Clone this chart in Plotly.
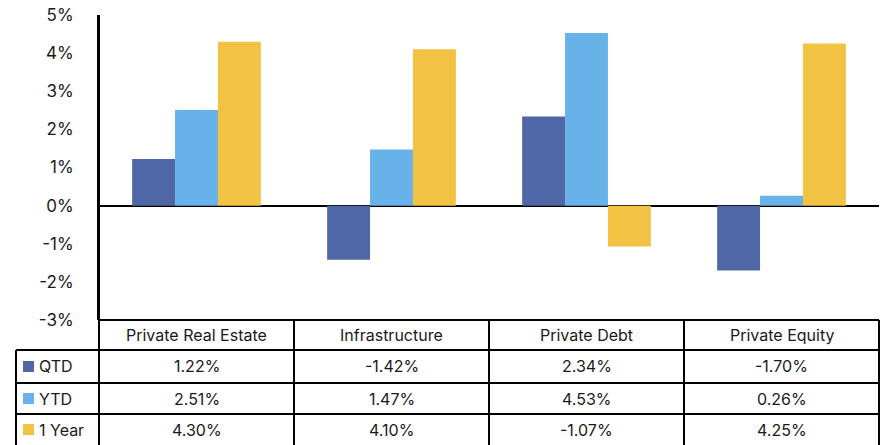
import plotly.graph_objects as go

categories = ["Private Real Estate", "Infrastructure", "Private Debt", "Private Equity"]
series_names = ["QTD", "YTD", "1 Year"]
qtd = [1.22, -1.42, 2.34, -1.70]
ytd = [2.51, 1.47, 4.53, 0.26]
one_year = [4.30, 4.10, -1.07, 4.25]
tick_vals = [-3, -2, -1, 0, 1, 2, 3, 4, 5]
tick_text = ["-3%", "-2%", "-1%", "0%", "1%", "2%", "3%", "4%", "5%"]

colors = ["#4F67A6", "#67B2E9", "#F2C242"]
series = [qtd, ytd, one_year]

W, H = 883, 445
L, R, T, B = 99, 4, 15, 125
pw, ph = W - L - R, H - T - B
FONT = "Inter, Liberation Sans, sans-serif"
TXT = "#1a1a1a"
TS = 16


def px_x(p):
    return (p - L) / pw


def px_y(p):
    return (H - B - p) / ph


fig = go.Figure()
for name, vals, c in zip(series_names, series, colors):
    fig.add_trace(go.Bar(x=categories, y=vals, name=name, marker_color=c,
                         marker_line_width=0))

shapes = []
lw = 2
line = dict(color="black", width=lw)
header_top, header_bot = 320, 350
row_tops = [350, 383, 414]
row_bot = 450
label_left = 16
n = len(categories)
col_x = [k / n for k in range(n + 1)]

shapes.append(dict(type="line", xref="paper", yref="paper", x0=0, x1=0,
                   y0=1, y1=px_y(row_bot), line=line))
shapes.append(dict(type="line", xref="paper", yref="paper", x0=0, x1=1,
                   y0=px_y(header_top), y1=px_y(header_top), line=line))
for yy in row_tops:
    shapes.append(dict(type="line", xref="paper", yref="paper",
                       x0=px_x(label_left), x1=1, y0=px_y(yy), y1=px_y(yy), line=line))
for cx in col_x[1:]:
    shapes.append(dict(type="line", xref="paper", yref="paper", x0=cx, x1=cx,
                       y0=px_y(header_top), y1=px_y(row_bot), line=line))
shapes.append(dict(type="line", xref="paper", yref="paper",
                   x0=px_x(label_left), x1=px_x(label_left),
                   y0=px_y(header_bot), y1=px_y(row_bot), line=line))

annotations = []
for i, cat in enumerate(categories):
    annotations.append(dict(text=cat, xref="paper", yref="paper",
                            x=(col_x[i] + col_x[i + 1]) / 2,
                            y=px_y((header_top + header_bot) / 2),
                            showarrow=False, xanchor="center", yanchor="middle",
                            font=dict(family=FONT, size=TS, color=TXT)))
row_centers = [(row_tops[0] + row_tops[1]) / 2, (row_tops[1] + row_tops[2]) / 2,
               (row_tops[2] + 445) / 2]
for r, (name, vals, c) in enumerate(zip(series_names, series, colors)):
    yc = row_centers[r]
    shapes.append(dict(type="rect", xref="paper", yref="paper",
                       x0=px_x(23), x1=px_x(34), y0=px_y(yc - 5.5), y1=px_y(yc + 5.5),
                       fillcolor=c, line=dict(width=0)))
    annotations.append(dict(text=name, xref="paper", yref="paper", x=px_x(37),
                            y=px_y(yc), showarrow=False, xanchor="left",
                            yanchor="middle",
                            font=dict(family=FONT, size=TS, color=TXT)))
    for i, v in enumerate(vals):
        annotations.append(dict(text=f"{v:.2f}%", xref="paper", yref="paper",
                                x=(col_x[i] + col_x[i + 1]) / 2, y=px_y(yc),
                                showarrow=False, xanchor="center", yanchor="middle",
                                font=dict(family=FONT, size=TS, color=TXT)))

fig.update_layout(
    template="none",
    width=W, height=H,
    margin=dict(l=L, r=R, t=T, b=B, pad=0),
    paper_bgcolor="white", plot_bgcolor="white",
    barmode="group", bargap=0.34, bargroupgap=0,
    showlegend=False,
    shapes=shapes, annotations=annotations,
    font=dict(family=FONT, color=TXT),
)
fig.update_xaxes(showticklabels=False, showline=False, showgrid=False,
                 zeroline=False, ticks="", automargin=False)
fig.update_yaxes(range=[-3, 5], tickvals=tick_vals, ticktext=tick_text,
                 showgrid=False, zeroline=True, zerolinecolor="black",
                 zerolinewidth=2, showline=True, linecolor="black", linewidth=2,
                 ticks="", ticklabelstandoff=20, automargin=False,
                 tickfont=dict(family=FONT, size=17, color=TXT))

fig.write_html(
    "out.html",
    config={"displayModeBar": False},
    post_script="document.body.style.margin='0';document.body.style.overflow='hidden';",
)
